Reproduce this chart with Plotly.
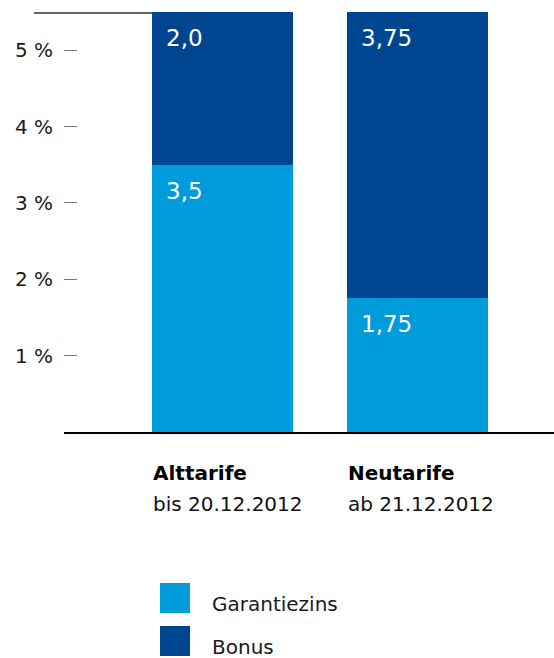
import plotly.graph_objects as go

categories = ["Alttarife", "Neutarife"]
subtitles = ["bis 20.12.2012", "ab 21.12.2012"]
series_names = ["Garantiezins", "Bonus"]
garantiezins = [3.5, 1.75]
bonus = [2.0, 3.75]
garantiezins_labels = ["3,5", "1,75"]
bonus_labels = ["2,0", "3,75"]
tick_values = [1, 2, 3, 4, 5]
tick_labels = ["1 %", "2 %", "3 %", "4 %", "5 %"]

colors = ["#009bdb", "#00458f"]
FONT = "DejaVu Sans"
BAR_W = 0.723
xpos = list(range(len(categories)))

# figure placed at the window origin (body margin removed)
W, H = 554, 658
ML, MT, MB = 64, 12, 226
PH = float(H - MT - MB)
PW = float(W - ML)
def py(v):
    return (H - MB - v) / PH
def px(v):
    return (v - ML) / PW

fig = go.Figure()
fig.add_trace(go.Bar(x=xpos, y=garantiezins, name=series_names[0], width=BAR_W,
                     marker=dict(color=colors[0], line=dict(width=0))))
fig.add_trace(go.Bar(x=xpos, y=bonus, name=series_names[1], width=BAR_W,
                     marker=dict(color=colors[1], line=dict(width=0))))

annotations = []
for i in xpos:
    left = i - BAR_W / 2
    annotations.append(dict(x=left, y=garantiezins[i], xref="x", yref="y", text=garantiezins_labels[i],
                            xanchor="left", yanchor="top", xshift=12, yshift=-11, showarrow=False,
                            font=dict(family=FONT, size=23, color="white")))
    annotations.append(dict(x=left, y=garantiezins[i] + bonus[i], xref="x", yref="y", text=bonus_labels[i],
                            xanchor="left", yanchor="top", xshift=12, yshift=-11, showarrow=False,
                            font=dict(family=FONT, size=23, color="white")))
    annotations.append(dict(x=left, y=0, xref="x", yref="y", text="<b>" + categories[i] + "</b>",
                            xanchor="left", yanchor="middle", xshift=-1, yshift=-41, showarrow=False,
                            font=dict(family=FONT, size=20, color="#000000")))
    annotations.append(dict(x=left, y=0, xref="x", yref="y", text=subtitles[i],
                            xanchor="left", yanchor="middle", xshift=-1, yshift=-72, showarrow=False,
                            font=dict(family=FONT, size=20, color="#111111")))

legend_center = [598, 641]
shapes = []
for k, name in enumerate(series_names):
    yc = legend_center[k]
    shapes.append(dict(type="rect", xref="paper", yref="paper", x0=px(160), x1=px(190),
                       y0=py(yc + 15), y1=py(yc - 15), fillcolor=colors[k], line=dict(width=0)))
    annotations.append(dict(x=px(210), y=py(yc + 6), xref="paper", yref="paper", text=name,
                            xanchor="left", yanchor="middle", showarrow=False,
                            font=dict(family=FONT, size=20, color="#1a1a1a")))

shapes.append(dict(type="line", xref="paper", yref="paper", x0=px(34), x1=px(152), y0=py(13), y1=py(13),
                   line=dict(color="#666666", width=2)))

fig.update_layout(
    width=W, height=H,
    margin=dict(l=ML, r=0, t=MT, b=MB),
    barmode="stack",
    showlegend=False,
    plot_bgcolor="white", paper_bgcolor="white",
    annotations=annotations,
    shapes=shapes,
    xaxis=dict(range=[-0.8128, 1.7], showticklabels=False, showgrid=False, zeroline=False,
               showline=True, linecolor="#000000", linewidth=1.5, ticks=""),
    yaxis=dict(range=[0, 5.5], tickvals=tick_values, ticktext=tick_labels, showgrid=False,
               zeroline=False, showline=False, ticks="inside", ticklen=13, tickwidth=1,
               tickcolor="#777777", ticklabelstandoff=10,
               tickfont=dict(family=FONT, size=20, color="#1a1a1a")),
)

fig.write_html("out.html", config={"displayModeBar": False},
               post_script="document.body.style.margin='0';document.body.style.overflow='hidden';")
